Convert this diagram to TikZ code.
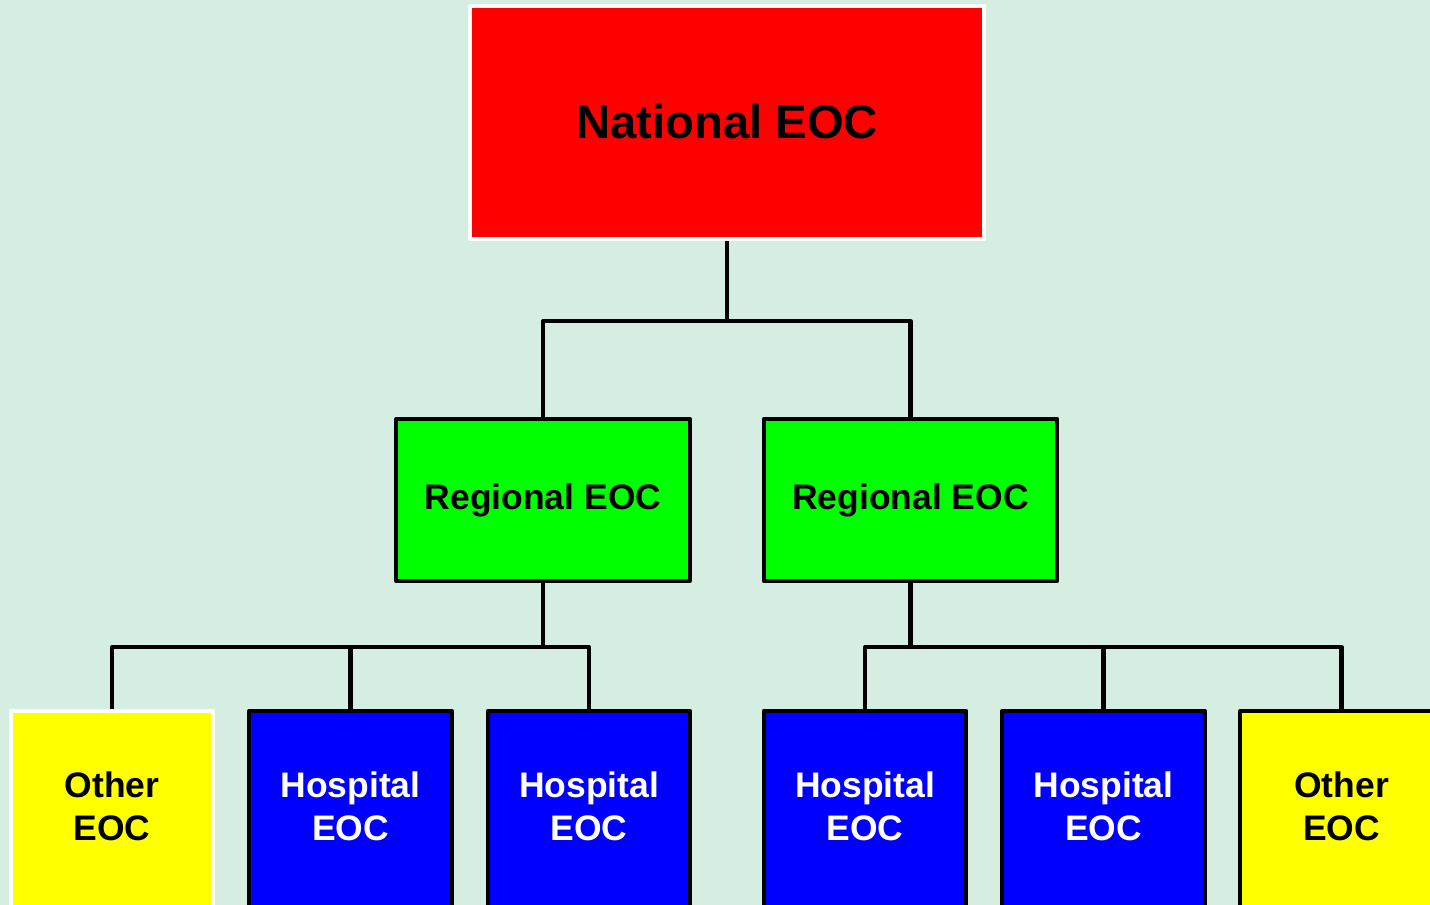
\documentclass[tikz,border=0pt]{standalone}
\usepackage{fontspec}
\setmainfont{Liberation Sans}
\usetikzlibrary{positioning}
\definecolor{bgmint}{RGB}{214,237,225}
\definecolor{eocyellow}{RGB}{255,255,0}

\begin{document}
\begin{tikzpicture}[x=0.02cm, y=-0.02cm, line join=round,
		wire/.style={line width=2.3pt},
		eocbox/.style={draw=black, line width=2.3pt, inner sep=0pt, align=center,
			font=\bfseries\fontsize{20.2}{24}\selectfont},
		natbox/.style={eocbox, draw=white, fill=red, minimum width=10.29cm, minimum height=4.67cm,
			text depth=0.16em, font=\bfseries\fontsize{26.9}{32}\selectfont},
		regbox/.style={eocbox, fill=green, minimum width=5.87cm, minimum height=3.24cm},
		lowbox/.style={eocbox, minimum width=4.05cm, text height=2.58cm, text depth=1.62cm, anchor=base},
		hospbox/.style={lowbox, fill=blue, text=white},
		otherbox/.style={lowbox, fill=eocyellow}]
	
	% --- page and background ---
	\useasboundingbox (0,0) rectangle (1430,905);
	\clip (0,0) rectangle (1430,905);
	\fill[bgmint] (0,0) rectangle (1430,905);
	
	% --- top level ---
	\node[natbox] (nat) at (727,122.75) {National EOC};
	
	% --- regional level ---
	\node[regbox] (reg1) at (543,500) {Regional EOC};
	\node[regbox] (reg2) at (910.5,500) {Regional EOC};
	
	% --- local level (base = last text line) ---
	\node[otherbox, draw=white] (oth1) at (112,840) {Other\\EOC};
	\node[hospbox] (hos1) at (350.5,840) {Hospital\\EOC};
	\node[hospbox] (hos2) at (589,840) {Hospital\\EOC};
	\node[hospbox] (hos3) at (865,840) {Hospital\\EOC};
	\node[hospbox] (hos4) at (1103.5,840) {Hospital\\EOC};
	\node[otherbox] (oth2) at (1341.5,840) {Other\\EOC};
	
	% --- bus lines ---
	\coordinate (topbus) at (727,321);
	\coordinate (leftbus) at (543,647);
	\coordinate (rightbus) at (910.5,647);
	
	\draw[wire] (nat.south) -- (topbus);
	\draw[wire] (reg1.north) |- (topbus) -| (reg2.north);
	
	\draw[wire] (reg1.south) -- (leftbus);
	\draw[wire] (oth1.north) |- (leftbus) -| (hos2.north);
	\draw[wire] (hos1.north) -- (hos1.north |- leftbus);
	
	\draw[wire] (reg2.south) -- (rightbus);
	\draw[wire] (hos3.north) |- (rightbus) -| (oth2.north);
	\draw[wire] (hos4.north) -- (hos4.north |- rightbus);
	
\end{tikzpicture}
\end{document}
